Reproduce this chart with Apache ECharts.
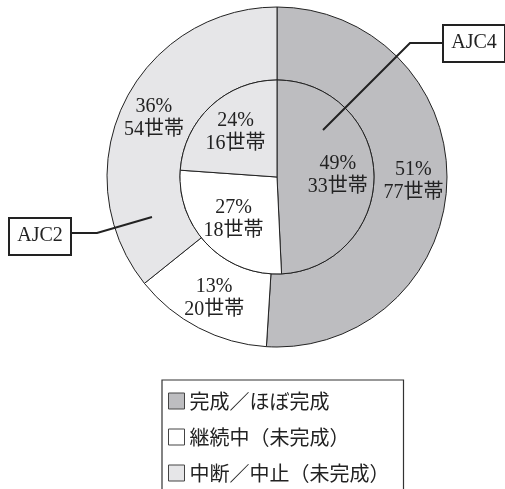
<!DOCTYPE html>
<html><head><meta charset="utf-8">
<script src="https://cdn.jsdelivr.net/npm/echarts@6/dist/echarts.min.js"></script>
<style>html,body{margin:0;padding:0;background:#fff}#c{width:505px;height:489px}</style>
</head><body><div id="c"></div>
<script>
const categories = ['完成／ほぼ完成', '継続中（未完成）', '中断／中止（未完成）'];
const outerValues = [77, 20, 54];   // AJC2
const innerValues = [33, 18, 16];   // AJC4
const outerPct = [51, 13, 36];
const innerPct = [49, 27, 24];
const colors = ['#bdbdc0', '#ffffff', '#e6e6e8'];

const chart = echarts.init(document.getElementById('c'));
const center = [277, 177];
const labelFont = '"Liberation Serif", "DejaVu Serif", "Noto Sans CJK JP", serif';

function mk(values, pcts) {
  return values.map((v, i) => ({
    name: categories[i], value: v, pct: pcts[i],
    itemStyle: { color: colors[i] }
  }));
}

chart.setOption({
  animation: false,
  color: colors,
  legend: {
    orient: 'vertical',
    left: 162, top: 380, height: 140,
    padding: [11, 14, 20, 6],
    itemGap: 16,
    itemWidth: 16, itemHeight: 16,
    icon: 'rect',
    borderColor: '#333', borderWidth: 1.2,
    itemStyle: { borderColor: '#444', borderWidth: 1 },
    textStyle: { fontSize: 20, color: '#222', fontFamily: '"Noto Sans CJK JP", sans-serif', lineHeight: 20 },
    data: categories
  },
  series: [
    {
      type: 'pie', radius: [97, 170], center: center,
      startAngle: 90, clockwise: true, silent: true,
      itemStyle: { borderColor: '#222', borderWidth: 1 },
      label: {
        position: 'inside', color: '#222', fontSize: 20, lineHeight: 23,
        fontFamily: labelFont,
        formatter: p => p.data.pct + '%\n' + p.value + '世帯'
      },
      labelLine: { show: false },
      data: mk(outerValues, outerPct)
    },
    {
      type: 'pie', radius: [0, 97], center: center,
      startAngle: 90, clockwise: true, silent: true,
      itemStyle: { borderColor: '#222', borderWidth: 1 },
      label: {
        position: 'inside', color: '#222', fontSize: 20, lineHeight: 23,
        fontFamily: labelFont,
        formatter: p => p.data.pct + '%\n' + p.value + '世帯'
      },
      labelLayout: function (params) {
        const r = params.labelRect;
        const cx = r.x + r.width / 2, cy = r.y + r.height / 2;
        return { dx: (cx - center[0]) * 0.18, dy: (cy - center[1]) * 0.18 };
      },
      labelLine: { show: false },
      data: mk(innerValues, innerPct)
    }
  ],
  graphic: [
    { type: 'polyline', shape: { points: [[323, 130], [410, 43], [442, 43]] }, style: { stroke: '#222', lineWidth: 2, fill: null }, z: 100 },
    { type: 'rect', shape: { x: 443, y: 25, width: 62, height: 37 }, style: { fill: '#fff', stroke: '#222', lineWidth: 2 }, z: 100 },
    { type: 'text', x: 474, y: 43, style: { text: 'AJC4', font: '20px "Liberation Serif", serif', fill: '#222', align: 'center', verticalAlign: 'middle' }, z: 101 },
    { type: 'polyline', shape: { points: [[152, 217], [97, 233], [72, 233]] }, style: { stroke: '#222', lineWidth: 2, fill: null }, z: 100 },
    { type: 'rect', shape: { x: 9, y: 218, width: 62, height: 37 }, style: { fill: '#fff', stroke: '#222', lineWidth: 2 }, z: 100 },
    { type: 'text', x: 40, y: 236, style: { text: 'AJC2', font: '20px "Liberation Serif", serif', fill: '#222', align: 'center', verticalAlign: 'middle' }, z: 101 }
  ]
});
</script></body></html>
